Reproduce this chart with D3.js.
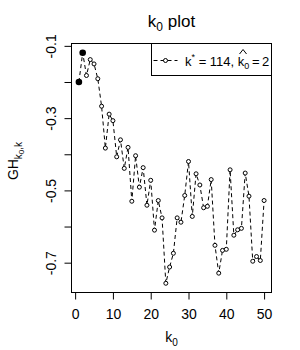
<!DOCTYPE html>
<html>
<head>
<meta charset="utf-8">
<script src="https://cdn.jsdelivr.net/npm/d3@7"></script>
<style>
  html, body { margin: 0; padding: 0; background: #fff; }
  svg { display: block; }
  text { font-family: "Liberation Sans", Arial, sans-serif; fill: #000; }
</style>
</head>
<body>
<svg id="chart" width="300" height="350"></svg>
<script>
// ---- data ----
const k0Values = [1,2,3,4,5,6,7,8,9,10,11,12,13,14,15,16,17,18,19,20,21,22,23,24,25,
                  26,27,28,29,30,31,32,33,34,35,36,37,38,39,40,41,42,43,44,45,46,47,48,49,50];
const ghValues = [-0.200,-0.119,-0.182,-0.138,-0.150,-0.191,-0.267,-0.383,-0.289,-0.307,
                  -0.407,-0.360,-0.439,-0.381,-0.530,-0.404,-0.491,-0.437,-0.541,-0.472,
                  -0.610,-0.528,-0.576,-0.757,-0.712,-0.674,-0.576,-0.588,-0.514,-0.420,
                  -0.572,-0.454,-0.485,-0.548,-0.544,-0.470,-0.652,-0.729,-0.666,-0.663,
                  -0.443,-0.624,-0.609,-0.605,-0.452,-0.516,-0.696,-0.683,-0.694,-0.528];
const highlightK = [1, 2];          // filled points
const xTicks = [0,10,20,30,40,50];
const yTicks = [-0.1,-0.2,-0.3,-0.4,-0.5,-0.6,-0.7];
const yTickLabels = ["-0.1","","-0.3","","-0.5","","-0.7"];
const kStar = 114, kHat = 2;

// ---- layout ----
const L = 71.5, R = 271.5, T = 43.5, B = 292.5;
const svg = d3.select("#chart");

function padded(ext) { const d = (ext[1]-ext[0])*0.04; return [ext[0]-d, ext[1]+d]; }
const x = d3.scaleLinear().domain(padded(d3.extent(k0Values))).range([L, R]);
const y = d3.scaleLinear().domain(padded(d3.extent(ghValues))).range([B, T]);

const data = k0Values.map((k,i) => ({k, v: ghValues[i]}));

// box
svg.append("rect").attr("x", L).attr("y", T).attr("width", R-L).attr("height", B-T)
  .attr("fill", "none").attr("stroke", "#000").attr("stroke-width", 1);

// x axis
const xAxis = svg.append("g").attr("transform", `translate(0,${B})`)
  .call(d3.axisBottom(x).tickValues(xTicks).tickSize(7).tickFormat(d3.format("d")));
xAxis.select(".domain").remove();
xAxis.selectAll(".tick line").attr("stroke", "#000");
xAxis.selectAll(".tick text").attr("y", 26).attr("dy", 0)
  .style("font-size", "14px").style("font-family", "Liberation Sans, Arial, sans-serif").attr("fill", "#000");

// y axis
const yAxis = svg.append("g").attr("transform", `translate(${L},0)`)
  .call(d3.axisLeft(y).tickValues(yTicks).tickSize(7).tickFormat((d,i) => yTickLabels[i]));
yAxis.select(".domain").remove();
yAxis.selectAll(".tick line").attr("stroke", "#000");
yAxis.selectAll(".tick text")
  .attr("x", 0).attr("dy", 0).attr("text-anchor", "middle")
  .attr("transform", "translate(-16,0) rotate(-90)")
  .style("font-size", "14px").style("font-family", "Liberation Sans, Arial, sans-serif").attr("fill", "#000");

// line
const line = d3.line().x(d => x(d.k)).y(d => y(d.v));
svg.append("path").datum(data).attr("d", line)
  .attr("fill", "none").attr("stroke", "#000").attr("stroke-width", 1)
  .attr("stroke-dasharray", "4,3");

// points
svg.selectAll("circle.pt").data(data).enter().append("circle").attr("class", "pt")
  .attr("cx", d => x(d.k)).attr("cy", d => y(d.v)).attr("r", 2)
  .attr("fill", "#fff").attr("stroke", "#000").attr("stroke-width", 1);
svg.selectAll("circle.hl").data(data.filter(d => highlightK.includes(d.k))).enter()
  .append("circle").attr("class", "hl")
  .attr("cx", d => x(d.k)).attr("cy", d => y(d.v)).attr("r", 3.3).attr("fill", "#000");

// title
const title = svg.append("text").attr("x", (L+R)/2).attr("y", 27).attr("text-anchor", "middle")
  .style("font-size", "17px");
title.append("tspan").text("k");
title.append("tspan").attr("dy", 4).style("font-size", "12px").text("0");
title.append("tspan").attr("dy", -4).text(" plot");

// x label
const xl = svg.append("text").attr("x", (L+R)/2).attr("y", 342).attr("text-anchor", "middle")
  .style("font-size", "14px");
xl.append("tspan").text("k");
xl.append("tspan").attr("dy", 4).style("font-size", "10px").text("0");

// y label
const yl = svg.append("text").attr("transform", "translate(18,161) rotate(-90)")
  .attr("text-anchor", "middle").style("font-size", "14px");
yl.append("tspan").text("GH");
yl.append("tspan").attr("dy", 4).style("font-size", "10px").text("k");
yl.append("tspan").attr("dy", 2).style("font-size", "8px").text("0");
yl.append("tspan").attr("dy", -2).style("font-size", "10px").text(",k");

// legend
const lgL = 151.5, lgB = 75.5;
svg.append("rect").attr("x", lgL).attr("y", T).attr("width", R-lgL).attr("height", lgB-T)
  .attr("fill", "#fff").attr("stroke", "#000").attr("stroke-width", 1);
const lgY = 60.5;
svg.append("line").attr("x1", lgL+2).attr("x2", lgL+26).attr("y1", lgY).attr("y2", lgY)
  .attr("stroke", "#000").attr("stroke-dasharray", "4,3");
svg.append("circle").attr("cx", lgL+14).attr("cy", lgY).attr("r", 2)
  .attr("fill", "#fff").attr("stroke", "#000");
const lt = svg.append("text").attr("x", 185).attr("y", 66).style("font-size", "13px");
lt.append("tspan").text("k");
lt.append("tspan").attr("dy", -6).style("font-size", "9px").text("*");
lt.append("tspan").attr("dy", 6).text(` = ${kStar}, `);
lt.append("tspan").text("k");
lt.append("tspan").attr("dy", 3).style("font-size", "9px").text("0");
lt.append("tspan").attr("dy", -3).text(`\u2009=\u2009${kHat}`);
// hat over the second k
const node = lt.node();
const idx = node.textContent.lastIndexOf("k");
try {
  const s = node.getStartPositionOfChar(idx), e = node.getEndPositionOfChar(idx);
  const cx = (s.x + e.x)/2 + 2;
  svg.append("path").attr("d", `M${cx-3.5},54 L${cx},49.5 L${cx+3.5},54`)
    .attr("fill", "none").attr("stroke", "#000").attr("stroke-width", 1);
} catch (err) {}
</script>
</body>
</html>
